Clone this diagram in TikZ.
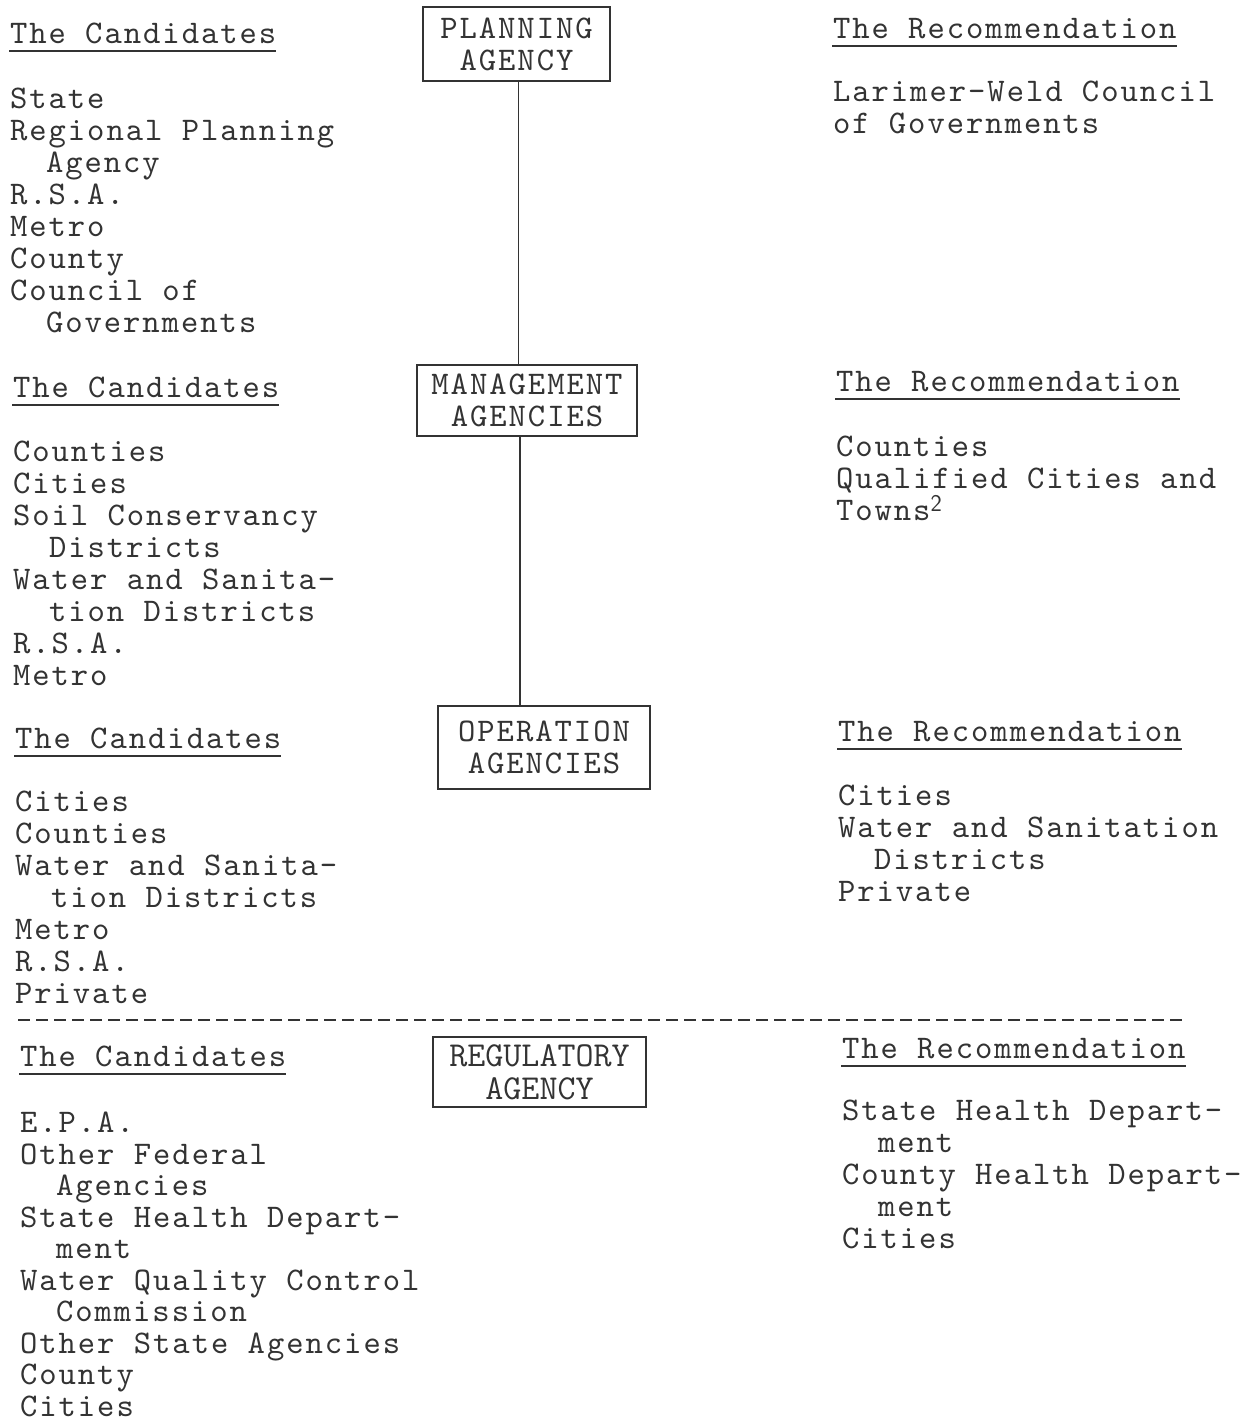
\documentclass[tikz,border=0pt]{standalone}
\usepackage{fontspec}
\newfontfamily\twfam{lmmono10-regular.otf}[LetterSpace=6]
\newcommand{\twfont}{\twfam\fontsize{33}{32}\selectfont}
\newcommand{\twfontb}{\twfam\fontsize{33}{31.5}\selectfont}
\begin{document}
\begin{tikzpicture}[x=1pt,y=-1pt,
  every node/.style={inner sep=0pt,outer sep=0pt,text=ink,font=\twfont},
  txt/.style={anchor=base west,align=left},
  hdr/.style={anchor=base west},
  uline/.style={draw=ink,line width=1.6pt},
  agency/.style={draw=ink,line width=2pt,align=center,anchor=center},
  conn/.style={draw=ink,line width=1.5pt},
  sep/.style={draw=ink,line width=2.2pt,dash pattern=on 12pt off 6pt}]
\definecolor{ink}{HTML}{333333}
\useasboundingbox[fill=white] (0,0) rectangle (1256,1422);
\newcommand{\ind}{\hspace*{36pt}}
% boxes
\node[agency,minimum width=187pt,minimum height=74pt] (plan) at (516.5,44) {PLANNING\\AGENCY};
\node[agency,minimum width=220pt,minimum height=71pt] (mgmt) at (527,400.5) {MANAGEMENT\\AGENCIES};
\node[agency,minimum width=212pt,minimum height=83pt] (oper) at (544,747.5) {OPERATION\\AGENCIES};
\node[agency,minimum width=213pt,minimum height=70pt,font=\ttfamily\fontsize{35}{33}\selectfont] (regu) at (539.5,1072) {REGULATORY\\AGENCY};
\draw[conn] ([xshift=2pt]plan.south) -- ([xshift=2pt]plan.south |- mgmt.north);
\draw[conn] ([xshift=-7pt]mgmt.south) -- ([xshift=-7pt]mgmt.south |- oper.north);
% left headers
\node[hdr] (lh1) at (10,43) {The Candidates};
\node[hdr] (lh2) at (13,397) {The Candidates};
\node[hdr] (lh3) at (15,748) {The Candidates};
\node[hdr] (lh4) at (20,1066) {The Candidates};
% right headers
\node[hdr] (rh1) at (833,38) {The Recommendation};
\node[hdr] (rh2) at (836,391) {The Recommendation};
\node[hdr] (rh3) at (838,741) {The Recommendation};
\node[hdr] (rh4) at (842,1058) {The Recommendation};
\foreach \h in {lh1,lh2,lh3,lh4,rh1,rh2,rh3,rh4}{
  \draw[uline] ([shift={(-1pt,-8pt)}]\h.base west) -- ([shift={(0pt,-8pt)}]\h.base east);
}
% left lists (anchored at the baseline of the last line)
\node[txt] (l1) at (10,332) {State\\Regional Planning\\\ind Agency\\R.S.A.\\Metro\\County\\Council of\\\ind Governments};
\node[txt] (l2) at (13,685) {Counties\\Cities\\Soil Conservancy\\\ind Districts\\Water and Sanita-\\\ind tion Districts\\R.S.A.\\Metro};
\node[txt] (l3) at (15,1003) {Cities\\Counties\\Water and Sanita-\\\ind tion Districts\\Metro\\R.S.A.\\Private};
\node[txt,font=\twfontb] (l4) at (20,1416) {E.P.A.\\Other Federal\\\ind Agencies\\State Health Depart-\\\ind ment\\Water Quality Control\\\ind Commission\\Other State Agencies\\County\\Cities};
% right lists
\node[txt] (r1) at (833,133) {Larimer-Weld Council\\of Governments};
\node[txt] (r2) at (836,520) {Counties\\Qualified Cities and\\Towns\raisebox{0.25em}{\sffamily\fontsize{24}{24}\selectfont 2}};
\node[txt] (r3) at (838,901) {Cities\\Water and Sanitation\\\ind Districts\\Private};
\node[txt] (r4) at (842,1248) {State Health Depart-\\\ind ment\\County Health Depart-\\\ind ment\\Cities};
% separator
\coordinate (sepL) at (18,1020);
\coordinate (sepR) at (1183,1020);
\draw[sep] (sepL) -- (sepR);
\end{tikzpicture}
\end{document}
